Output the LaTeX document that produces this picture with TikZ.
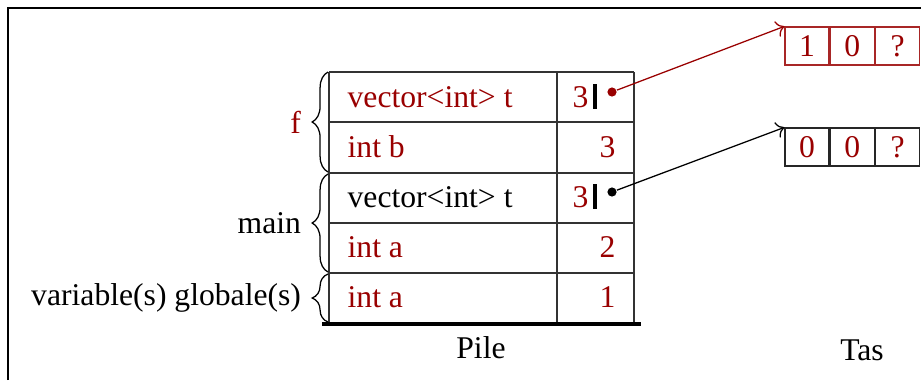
\documentclass[tikz,border=0pt]{standalone}
\usepackage{fontspec}
\setmainfont{Liberation Serif}
\usepackage{tikz}
\usetikzlibrary{arrows.meta,positioning,calc,decorations.pathreplacing}
\usepackage{xcolor}
\definecolor{rouge}{RGB}{153,0,0}

\tikzset{
  var/.style={anchor=west,inner sep=0pt},
  val/.style={anchor=east,inner sep=0pt},
  pointeur/.style={circle,fill,inner sep=0pt,minimum size=2.9pt},
  case/.style={draw,thin,minimum width=13.9pt,minimum height=12pt,inner sep=0pt,text=rouge},
  accolade/.style={decorate,decoration={brace,amplitude=5pt}},
}

\begin{document}
\begin{tikzpicture}[x=0.316pt,y=-0.316pt]
                    \useasboundingbox (0,0) rectangle (921,380);
                    % cadre
                    \draw[thin] (8,380) -- (8,8) -- (921,8);

                    % Pile
                    \foreach \y in {72,122,173,223,273}
                      \draw[thin,black!80] (329,\y) -- (634,\y);
                    \foreach \x in {329,557,634}
                      \draw[thin,black!80] (\x,72) -- (\x,324);
                    \draw[very thick] (322,324) -- (641,324);
                    \node (pile) at (481,348) {Pile};

                    % contenu
                    \node[var,text=rouge] (tf) at (347,97) {vector<int> t};
                    \node[var,text=rouge] (bf) at (347,147) {int b};
                    \node[var] (tm) at (347,197) {vector<int> t};
                    \node[var,text=rouge] (am) at (347,247) {int a};
                    \node[var,text=rouge] (ag) at (347,297) {int a};

                    \node[val,text=rouge] (vtf) at (589,97) {3};
                    \node[val,text=rouge] (vbf) at (616,147) {3};
                    \node[val,text=rouge] (vtm) at (589,197) {3};
                    \node[val,text=rouge] (vam) at (616,247) {2};
                    \node[val,text=rouge] (vag) at (616,297) {1};
                    \draw[line width=1pt] (595,84) -- (595,109);
                    \draw[line width=1pt] (595,184) -- (595,209);
                    \node[pointeur,rouge] (ptf) at (612,92) {};
                    \node[pointeur] (ptm) at (612,192) {};

                    % accolades
                    \draw[accolade] (328,172) -- (328,72) node[midway,left=5pt,text=rouge] (f) {f};
                    \draw[accolade] (328,272) -- (328,174) node[midway,left=5pt] (main) {main};
                    \draw[accolade] (328,322) -- (328,274) node[midway,left=5pt] (glob) {variable(s) globale(s)};

                    % Tas
                    \node[case,draw=rouge!85] (h1a) at (807,46) {1};
                    \node[case,draw=rouge!85,right=0pt of h1a] (h1b) {0};
                    \node[case,draw=rouge!85,right=0pt of h1b] (h1c) {?};
                    \node[case,draw=black!85] (h2a) at (807,147) {0};
                    \node[case,draw=black!85,right=0pt of h2a] (h2b) {0};
                    \node[case,draw=black!85,right=0pt of h2b] (h2c) {?};
                    \node (tas) at (862,350) {Tas};

                    \draw[->,rouge] (ptf) -- (h1a.north west);
                    \draw[->] (ptm) -- (h2a.north west);
                \end{tikzpicture}
\end{document}
